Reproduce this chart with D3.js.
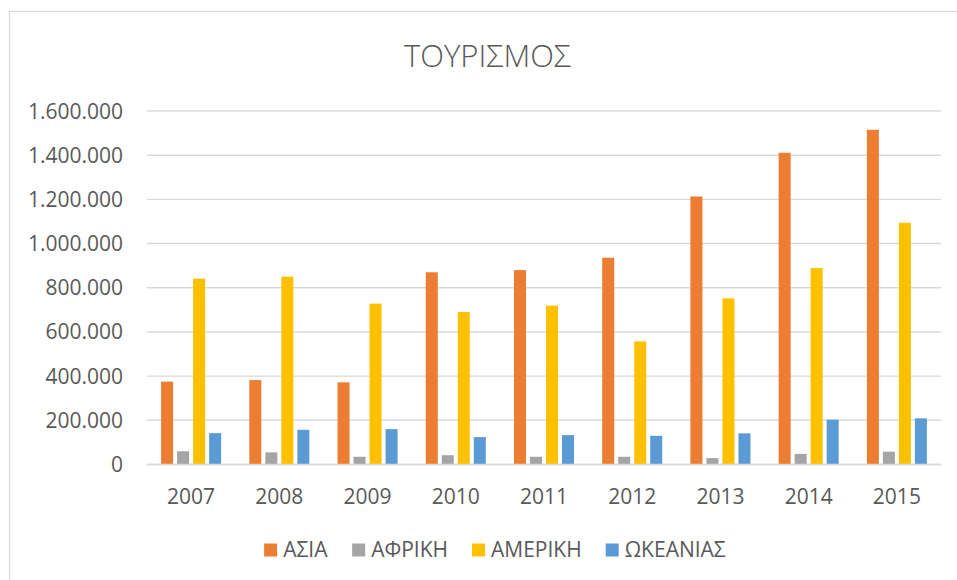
<!DOCTYPE html>
<html lang="el">
<head>
<meta charset="UTF-8">
<title>ΤΟΥΡΙΣΜΟΣ</title>
<script src="https://d3js.org/d3.v7.min.js"></script>
<style>
  body { margin: 0; background: #fff; }
  svg { display: block; font-family: "Open Sans", sans-serif; }
</style>
</head>
<body>
<svg id="chart"></svg>
<script>
    // data
    const years = ["2007", "2008", "2009", "2010", "2011", "2012", "2013", "2014", "2015"];
    const seriesNames = ["ΑΣΙΑ", "ΑΦΡΙΚΗ", "ΑΜΕΡΙΚΗ", "ΩΚΕΑΝΙΑΣ"];
    const asia     = [375000, 382000, 372000, 870000, 880000, 936000, 1213000, 1411000, 1515000];
    const africa   = [60000, 55000, 35000, 42000, 35000, 35000, 29000, 48000, 58000];
    const america  = [841000, 850000, 728000, 690000, 719000, 557000, 752000, 889000, 1094000];
    const oceania  = [142000, 157000, 160000, 124000, 133000, 130000, 141000, 203000, 209000];
    const yTicks = [0, 200000, 400000, 600000, 800000, 1000000, 1200000, 1400000, 1600000];

    const colors = ["#ED7D31", "#A5A5A5", "#FFC000", "#5B9BD5"];
    const allSeries = [asia, africa, america, oceania];

    const width = 957, height = 580;
    const margin = {top: 111, right: 16, bottom: 115.5, left: 147};
    const textColor = "#595959";
    const gridColor = "#d9d9d9";

    const locale = d3.formatLocale({decimal: ",", thousands: ".", grouping: [3], currency: ["", "€"]});
    const fmt = locale.format(",d");

    const svg = d3.select("#chart")
        .attr("width", width)
        .attr("height", height);

    // chart area border (runs off the right and bottom of the picture)
    svg.append("rect")
        .attr("x", 9.5).attr("y", 11.5)
        .attr("width", width + 20).attr("height", height + 20)
        .attr("fill", "#fff")
        .attr("stroke", gridColor)
        .attr("stroke-width", 1.3);

    const x0 = d3.scaleBand()
        .domain(years)
        .range([margin.left, width - margin.right]);

    const x1 = d3.scaleBand()
        .domain(seriesNames)
        .range([0, x0.bandwidth()])
        .paddingInner(0.25)
        .paddingOuter(0.88);

    const y = d3.scaleLinear()
        .domain([0, 1600000])
        .range([height - margin.bottom, margin.top]);

    // gridlines
    svg.append("g")
        .selectAll("line")
        .data(yTicks)
        .join("line")
        .attr("x1", margin.left)
        .attr("x2", width - margin.right)
        .attr("y1", d => y(d))
        .attr("y2", d => y(d))
        .attr("stroke", gridColor)
        .attr("stroke-width", 1.4);

    // y labels
    svg.append("g")
        .selectAll("text")
        .data(yTicks)
        .join("text")
        .attr("x", margin.left - 24)
        .attr("y", d => y(d))
        .attr("dy", "0.36em")
        .attr("text-anchor", "end")
        .attr("font-size", 21)
        .attr("fill", textColor)
        .text(d => fmt(d));

    // bars
    const rows = years.map((yr, i) => ({year: yr, values: allSeries.map((s, k) => ({name: seriesNames[k], k: k, v: s[i]}))}));

    svg.append("g")
        .selectAll("g")
        .data(rows)
        .join("g")
        .attr("transform", d => `translate(${x0(d.year)},0)`)
        .selectAll("rect")
        .data(d => d.values)
        .join("rect")
        .attr("x", d => x1(d.name))
        .attr("width", x1.bandwidth())
        .attr("y", d => y(d.v))
        .attr("height", d => y(0) - y(d.v))
        .attr("fill", d => colors[d.k]);

    // baseline on top of bars
    svg.append("line")
        .attr("x1", margin.left)
        .attr("x2", width - margin.right)
        .attr("y1", y(0))
        .attr("y2", y(0))
        .attr("stroke", gridColor)
        .attr("stroke-width", 1.6);

    // x labels
    svg.append("g")
        .selectAll("text")
        .data(years)
        .join("text")
        .attr("x", d => x0(d) + x0.bandwidth() / 2)
        .attr("y", y(0) + 39.5)
        .attr("text-anchor", "middle")
        .attr("font-size", 21)
        .attr("fill", textColor)
        .text(d => d);

    // title
    svg.append("text")
        .attr("x", 487.5)
        .attr("y", 66.5)
        .attr("text-anchor", "middle")
        .attr("font-size", 31)
        .attr("font-weight", 300)
        .attr("fill", textColor)
        .text("ΤΟΥΡΙΣΜΟΣ");

    // legend
    const legend = svg.append("g");
    const items = legend.selectAll("g")
        .data(seriesNames)
        .join("g");
    items.append("rect")
        .attr("width", 13).attr("height", 13)
        .attr("y", -13)
        .attr("fill", (d, i) => colors[i]);
    items.append("text")
        .attr("x", 19)
        .attr("font-size", 21)
        .attr("fill", textColor)
        .text(d => d);

    let pos = 0;
    items.each(function () {
        const w = this.getBBox().width;
        d3.select(this).attr("transform", `translate(${pos},0)`);
        pos += w + 24;
    });
    const total = pos - 24;
    legend.attr("transform", `translate(${495 - total / 2},556.5)`);
</script>
</body>
</html>
